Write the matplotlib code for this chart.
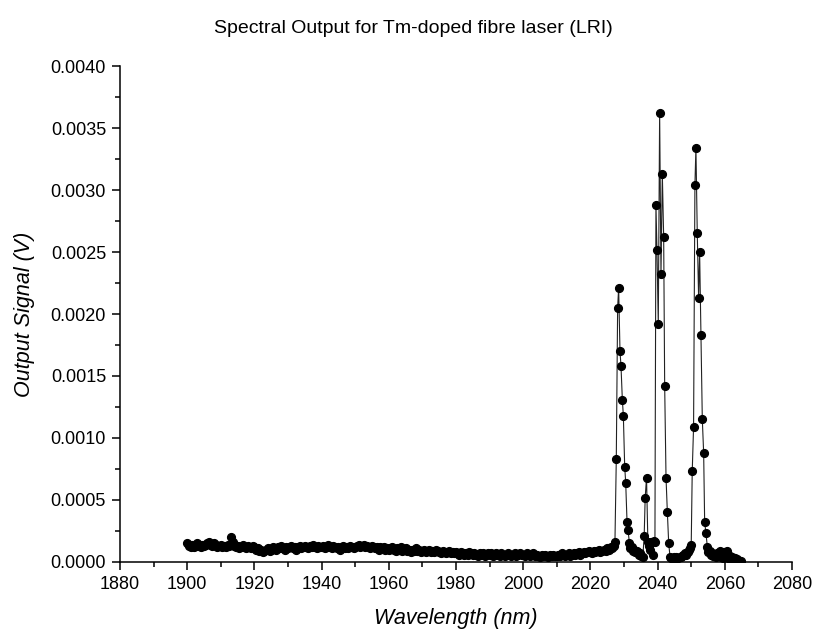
import numpy as np
import matplotlib
matplotlib.use('Agg')
import matplotlib.pyplot as plt
from matplotlib.ticker import MultipleLocator, FormatStrFormatter

plt.rcParams['font.family'] = ['Liberation Sans', 'DejaVu Sans']

# baseline part of the scan, one reading every 0.5 nm from 1900 nm (units of 1e-5 V)
base_start = 1900.0
base_step = 0.5
base_signal_1e5 = [
    15, 13, 12, 14, 12, 13, 15, 13, 12, 14, 13, 14, 15, 16, 14, 13, 15, 14, 12, 13,
    14, 12, 13, 12, 14, 13, 20, 16, 13, 12, 13, 11, 12, 14, 12, 11, 13, 12, 11, 13,
    12, 10, 11, 9, 10, 8, 9, 10, 11, 9, 10, 12, 11, 10, 12, 11, 13, 11, 10, 12,
    11, 12, 13, 11, 12, 10, 12, 13, 11, 12, 13, 12, 11, 13, 12, 14, 12, 11, 13, 12,
    12, 13, 11, 12, 14, 12, 11, 13, 12, 11, 12, 10, 12, 13, 11, 12, 11, 13, 12, 11,
    12, 13, 14, 12, 13, 14, 12, 13, 12, 11, 13, 12, 11, 12, 10, 12, 11, 12, 10, 11,
    10, 11, 12, 10, 9, 11, 10, 12, 9, 10, 11, 9, 10, 8, 10, 9, 11, 9, 10, 8,
    9, 10, 8, 9, 10, 8, 9, 8, 10, 9, 8, 7, 9, 8, 7, 8, 9, 7, 8, 7,
    8, 7, 6, 8, 7, 6, 7, 6, 8, 7, 6, 7, 6, 5, 7, 6, 7, 5, 6, 7,
    6, 7, 5, 6, 7, 6, 5, 7, 6, 5, 6, 7, 6, 5, 6, 7, 5, 6, 7, 6,
    6, 5, 7, 6, 5, 6, 7, 5, 6, 5, 4, 6, 5, 6, 5, 4, 6, 5, 6, 5,
    5, 6, 5, 7, 6, 5, 6, 7, 5, 6, 7, 6, 7, 8, 6, 7, 8, 7, 8, 9,
    8, 7, 9, 8, 9, 10, 8, 9, 10, 9, 11, 10, 12, 11,
]

# laser lines region, read point by point
peak_wavelength = [
    2027.0, 2027.3, 2027.7, 2028.1, 2028.4, 2028.8, 2029.1, 2029.5, 2029.8, 2030.2,
    2030.5, 2030.9, 2031.2, 2031.6, 2031.9, 2032.3, 2032.7, 2033.0, 2033.4, 2033.8,
    2034.1, 2034.5, 2034.9, 2035.2, 2035.6, 2036.0, 2036.3, 2036.7, 2037.1, 2037.4,
    2037.8, 2038.1, 2038.5, 2038.9, 2039.2, 2039.5, 2039.8, 2040.2, 2040.6, 2041.0,
    2041.4, 2041.8, 2042.1, 2042.5, 2042.9, 2043.3, 2043.7, 2044.0, 2044.4, 2044.8,
    2045.1, 2045.5, 2045.9, 2046.2, 2046.6, 2047.0, 2047.3, 2047.7, 2048.1, 2048.5,
    2048.9, 2049.2, 2049.6, 2050.0, 2050.3, 2050.7, 2051.1, 2051.4, 2051.8, 2052.2,
    2052.5, 2052.9, 2053.3, 2053.7, 2054.0, 2054.4, 2054.8, 2055.1, 2055.5, 2055.9,
    2056.3, 2056.6, 2057.0, 2057.4, 2057.7, 2058.1, 2058.5, 2058.8, 2059.2, 2059.6,
    2059.9, 2060.3, 2060.7, 2061.0, 2061.4, 2061.8, 2062.1, 2062.5, 2062.9, 2063.2,
    2063.6, 2064.0, 2064.3, 2064.7,
]
peak_signal = [
    0.00013, 0.00016, 0.00083, 0.00205, 0.00221, 0.00170, 0.00158, 0.00131, 0.00118, 0.00077,
    0.00064, 0.00032, 0.00026, 0.00015, 0.00011, 0.00012, 0.00009, 0.00010, 0.00008, 0.00009,
    0.00007, 0.00006, 0.00007, 0.00005, 0.00004, 0.00021, 0.00052, 0.00068, 0.00016, 0.00013,
    0.00010, 0.00016, 0.00006, 0.00017, 0.00016, 0.00288, 0.00252, 0.00192, 0.00362, 0.00232,
    0.00313, 0.00262, 0.00142, 0.00068, 0.00040, 0.00015, 0.00004, 0.00003, 0.00003, 0.00004,
    0.00003, 0.00004, 0.00003, 0.00003, 0.00004, 0.00004, 0.00005, 0.00006, 0.00007, 0.00006,
    0.00008, 0.00010, 0.00011, 0.00014, 0.00073, 0.00109, 0.00304, 0.00334, 0.00265, 0.00213,
    0.00250, 0.00183, 0.00115, 0.00088, 0.00032, 0.00023, 0.00012, 0.00008, 0.00009, 0.00006,
    0.00007, 0.00005, 0.00006, 0.00004, 0.00007, 0.00005, 0.00009, 0.00004, 0.00006, 0.00003,
    0.00008, 0.00004, 0.00009, 0.00003, 0.00005, 0.00002, 0.00004, 0.00002, 0.00003, 0.00001,
    0.00002, 0.00001, 0.00001, 0.00001,
]

# join the two parts into one scan
base_wavelength = base_start + base_step * np.arange(len(base_signal_1e5))
wavelength = np.concatenate([base_wavelength, peak_wavelength])
signal = np.concatenate([np.array(base_signal_1e5) * 1e-5, peak_signal])

fig = plt.figure(figsize=(8.13, 6.35), dpi=100)
ax = fig.add_axes((0.1476, 0.115, 0.8266, 0.781))

ax.plot(wavelength, signal, color='#222222', linewidth=0.8,
        marker='o', markersize=5.6, markerfacecolor='black', markeredgecolor='black')

ax.set_xlim(1880, 2080)
ax.set_ylim(0, 0.004)
ax.xaxis.set_major_locator(MultipleLocator(20))
ax.xaxis.set_minor_locator(MultipleLocator(10))
ax.yaxis.set_major_locator(MultipleLocator(0.0005))
ax.yaxis.set_minor_locator(MultipleLocator(0.00025))
ax.yaxis.set_major_formatter(FormatStrFormatter('%.4f'))

# only left and bottom axes, ticks pointing out
ax.spines['top'].set_visible(False)
ax.spines['right'].set_visible(False)
ax.spines['left'].set_linewidth(1.1)
ax.spines['bottom'].set_linewidth(1.1)
ax.tick_params(which='major', direction='out', length=6, width=1.1, labelsize=13, pad=4)
ax.tick_params(which='minor', direction='out', length=3.5, width=1.1)

ax.set_xlabel('Wavelength (nm)', fontsize=15.5, style='italic', labelpad=11)
ax.set_ylabel('Output Signal (V)', fontsize=15.5, style='italic', labelpad=11)
fig.suptitle('Spectral Output for Tm-doped fibre laser (LRI)', fontsize=14, x=0.508, y=0.968)

fig.savefig('out.png', dpi=100)
